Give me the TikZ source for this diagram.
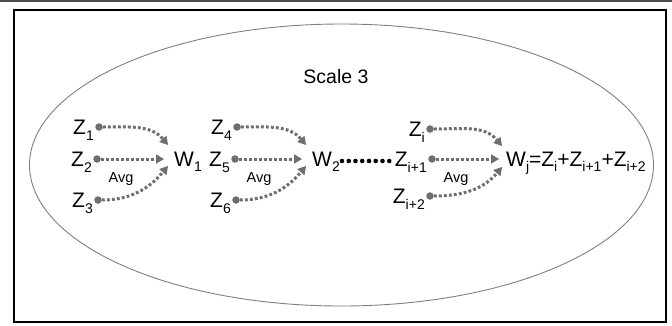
\documentclass[tikz,border=0pt]{standalone}
\usepackage{fontspec}
\setmainfont{Liberation Sans}
\usetikzlibrary{arrows.meta,calc}
\newcommand{\lsub}[1]{\raisebox{-0.28em}{\fontsize{14}{14}\selectfont #1}}
\definecolor{dotgray}{HTML}{6E6E6E}
\tikzset{
  zdot/.style={circle,fill=dotgray,inner sep=0pt,minimum size=7.5pt},
  zlab/.style={inner sep=0pt,font=\fontsize{21}{23}\selectfont,anchor=base east},
  wlab/.style={inner sep=0pt,font=\fontsize{21}{23}\selectfont,anchor=base west},
  avglab/.style={inner sep=0pt,font=\fontsize{14.5}{16}\selectfont,anchor=base},
  flow/.style={draw=dotgray,line width=3pt,dash pattern=on 2.8pt off 2.2pt,
    -{Triangle[length=8pt,width=9.5pt,line width=0pt]}},
  leader/.style={line width=4.6pt,line cap=round,dash pattern=on 0pt off 6.75pt},
}
\begin{document}
\begin{tikzpicture}[x=1pt,y=-1pt]
\useasboundingbox (0,0) rectangle (672,325);
\fill[white] (0,0) rectangle (672,325);
\draw[line width=1.6pt,draw=black!70] (0,0.8) -- (672,0.8);
\draw[line width=2.2pt] (14,10) rectangle (666,322);
\draw[draw=black!50,line width=0.9pt] (341.5,165) ellipse [x radius=312,y radius=141];
\node[inner sep=0pt,font=\fontsize{19.5}{21}\selectfont,anchor=base] (title) at (336,83) {Scale 3};

% group 1
\node[zdot] (d1) at (99,127) {};
\node[zdot] (d2) at (97,159) {};
\node[zdot] (d3) at (98,200) {};
\node[zlab] (z1) at ($(d1)+(-5,7.3)$) {Z\lsub{1}};
\node[zlab] (z2) at ($(d2)+(-5,7.3)$) {Z\lsub{2}};
\node[zlab] (z3) at ($(d3)+(-5,7.3)$) {Z\lsub{3}};
\node[wlab] (w1) at (174,166) {W\lsub{1}};
\coordinate (a1) at (168,145);
\coordinate (a2) at (164,159);
\coordinate (a3) at (168,166);
\draw[flow] (d1) to[out=0,in=130] (a1);
\draw[flow] (d2) -- (a2);
\draw[flow] (d3) to[out=0,in=-130] (a3);
\node[avglab] (avg1) at (121,182) {Avg};

% group 2
\node[zdot] (d4) at (237,127) {};
\node[zdot] (d5) at (235,159) {};
\node[zdot] (d6) at (236,200) {};
\node[zlab] (z4) at ($(d4)+(-5,7.3)$) {Z\lsub{4}};
\node[zlab] (z5) at ($(d5)+(-5,7.3)$) {Z\lsub{5}};
\node[zlab] (z6) at ($(d6)+(-5,7.3)$) {Z\lsub{6}};
\node[wlab] (w2) at (312,166) {W\lsub{2}};
\coordinate (a4) at (306,145);
\coordinate (a5) at (302,159);
\coordinate (a6) at (306,166);
\draw[flow] (d4) to[out=0,in=130] (a4);
\draw[flow] (d5) -- (a5);
\draw[flow] (d6) to[out=0,in=-130] (a6);
\node[avglab] (avg2) at (259,182) {Avg};

% group 3
\node[zdot] (d7) at (430,129) {};
\node[zdot] (d8) at (432,159) {};
\node[zdot] (d9) at (430,196) {};
\node[zlab] (z7) at ($(d7)+(-5,7.3)$) {Z\lsub{i}};
\node[zlab] (z8) at ($(d8)+(-5,7.3)$) {Z\lsub{i+1}};
\node[zlab] (z9) at ($(d9)+(-5,7.3)$) {Z\lsub{i+2}};
\node[wlab] (w3) at (506,166) {W\lsub{j}=Z\lsub{i}+Z\lsub{i+1}+Z\lsub{i+2}};
\coordinate (a7) at (502,146);
\coordinate (a8) at (499,159);
\coordinate (a9) at (502,167);
\draw[flow] (d7) to[out=0,in=130] (a7);
\draw[flow] (d8) -- (a8);
\draw[flow] (d9) to[out=0,in=-130] (a9);
\node[avglab] (avg3) at (456,182) {Avg};

% leader dots
\coordinate (l1) at (342,161);
\coordinate (l2) at (389.5,161);
\draw[leader] (l1) -- (l2);
\end{tikzpicture}
\end{document}
